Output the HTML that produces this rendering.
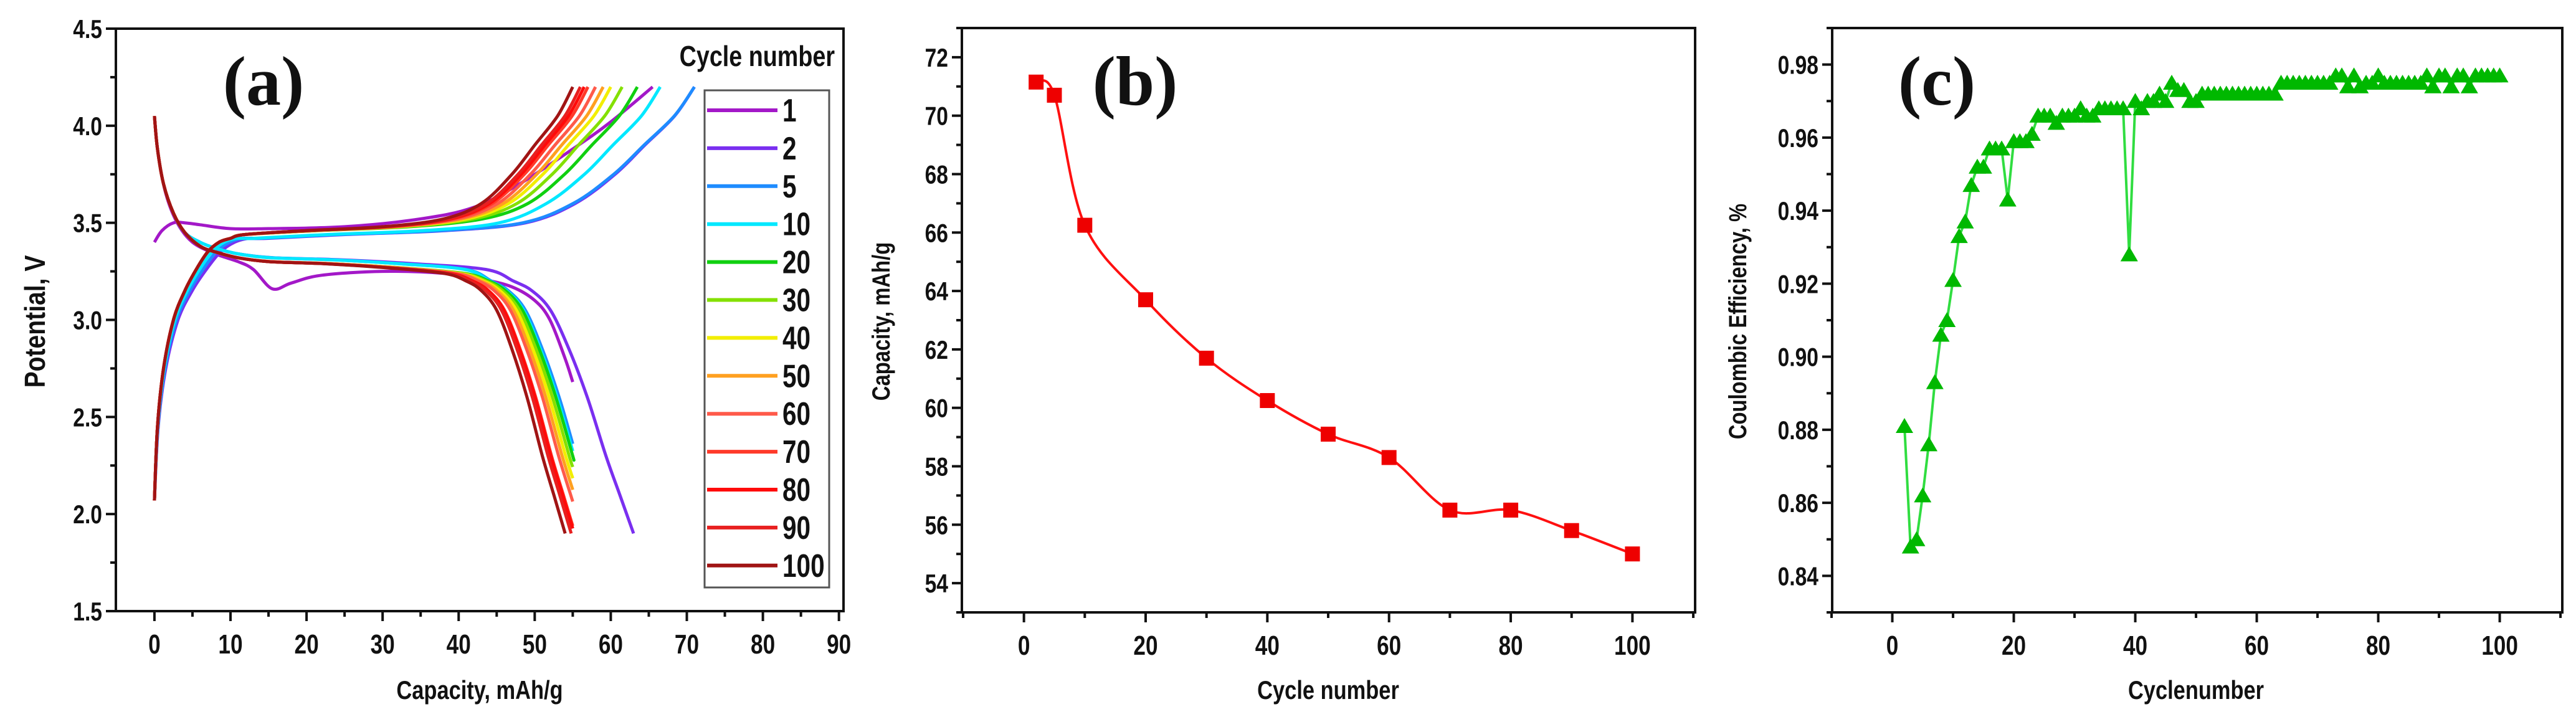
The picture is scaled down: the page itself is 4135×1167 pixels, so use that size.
<!DOCTYPE html>
<html><head><meta charset="utf-8">
<style>
html,body{margin:0;padding:0;background:#fff;}
svg{display:block;}
text{font-family:"Liberation Sans",sans-serif;font-weight:bold;fill:#111;}
.serif{font-family:"Liberation Serif",serif;}
</style></head>
<body>
<svg id="fig" width="4135" height="1167" viewBox="0 0 4135 1167" xmlns="http://www.w3.org/2000/svg"></svg>
<script>
// ---------- Panel (a) data ----------
const cycles = ["1","2","5","10","20","30","40","50","60","70","80","90","100"];
const cycleColors = ["#a318c8","#7a2ff0","#1e8cff","#00e8ff","#10d010","#84e000","#f2ee00","#ffa020","#ff5a4a","#ff3a2a","#ff0a0a","#e82020","#a01414"];
// charge: capacity at which 4.2 V is reached
const chargeEnd = [65.5,71,71,66.5,63.5,61.5,60,59,58,57,56.5,56,55];
// discharge: capacity at which 1.9 V would be reached and cut-off capacity
const dischargeFull = [0,63,58.8,58.5,58.3,57.8,57.3,56.8,56.3,55.3,55.2,54.8,54];
const dischargeCut = [55,63,55,55,55,55,55,55,55,55,55,54.8,54];
// template charge curve (capacity, V)
const chargeCap = [0,0.4,1.2,2.5,4,5.5,7,8.5,10,12,20,30,38,43,47,50,53,55];
const chargeV   = [2.07,2.45,2.75,3.0,3.15,3.26,3.35,3.40,3.42,3.44,3.46,3.48,3.52,3.6,3.75,3.9,4.05,4.2];
// template discharge curve (capacity, V)
const disCap = [0,0.4,1.2,2.5,4,6,8,11,15,22,30,38,41,43,45,47,49,51,52.5,54];
const disV   = [4.05,3.88,3.7,3.55,3.45,3.38,3.35,3.32,3.3,3.29,3.27,3.24,3.2,3.15,3.05,2.85,2.6,2.3,2.1,1.9];
// first cycle (irregular)
const c1ChargeCap = [0,1,2.5,4,6,10,15,25,35,42,48,55,60,65.5];
const c1ChargeV   = [3.4,3.46,3.5,3.5,3.49,3.47,3.47,3.48,3.52,3.58,3.7,3.88,4.02,4.2];
const c1DisCap = [0,0.5,1.5,3,5,8,11,13,15.5,18,22,30,38,43,47,50,52,54,55];
const c1DisV   = [4.05,3.85,3.65,3.5,3.4,3.34,3.3,3.26,3.16,3.19,3.23,3.25,3.24,3.21,3.17,3.1,3.0,2.8,2.68];

// ---------- Panel (b) data ----------
const capCycles = [2,5,10,20,30,40,50,60,70,80,90,100];
const capValues = [71.15,70.7,66.25,63.7,61.7,60.25,59.1,58.3,56.5,56.5,55.8,55.0];

// ---------- Panel (c) data ----------
const ceCycles = [];
for (let i=2;i<=100;i++) ceCycles.push(i);
const ceValues = [0.881,0.848,0.850,0.862,0.876,0.893,0.906,0.910,0.921,0.933,0.937,0.947,0.952,0.952,0.957,0.957,0.957,0.943,0.959,
0.959,0.959,0.961,0.966,0.966,0.966,0.964,0.966,0.966,0.966,0.968,0.966,0.966,0.968,0.968,0.968,0.968,0.968,0.928,0.970,
0.968,0.970,0.970,0.972,0.970,0.975,0.973,0.973,0.970,0.970,0.972,0.972,0.972,0.972,0.972,0.972,0.972,0.972,0.972,0.972,
0.972,0.972,0.972,0.975,0.975,0.975,0.975,0.975,0.975,0.975,0.975,0.975,0.977,0.977,0.974,0.977,0.974,0.975,0.975,0.977,
0.975,0.975,0.975,0.975,0.975,0.975,0.975,0.977,0.974,0.977,0.977,0.974,0.977,0.977,0.974,0.977,0.977,0.977,0.977,0.977];

const svg = document.getElementById('fig');
const NS = "http://www.w3.org/2000/svg";
function el(tag, attrs, parent){
  const e = document.createElementNS(NS, tag);
  for (const k in attrs) e.setAttribute(k, attrs[k]);
  (parent||svg).appendChild(e);
  return e;
}
function txt(x,y,s,size,anchor,parent,cls,sx,rot){
  const t = document.createElementNS(NS,'text');
  let tr = `translate(${x},${y})`;
  if (rot) tr += ` rotate(${rot})`;
  tr += ` scale(${sx||0.8},1)`;
  t.setAttribute('transform', tr);
  t.setAttribute('font-size', size);
  t.setAttribute('text-anchor', anchor||'middle');
  if (cls) t.setAttribute('class', cls);
  t.textContent = s;
  (parent||svg).appendChild(t);
  return t;
}
function smoothPath(pts){
  if (pts.length<2) return '';
  let d = `M${pts[0][0].toFixed(1)},${pts[0][1].toFixed(1)}`;
  for (let i=0;i<pts.length-1;i++){
    const p0 = pts[i-1]||pts[i], p1=pts[i], p2=pts[i+1], p3=pts[i+2]||p2;
    const c1=[p1[0]+(p2[0]-p0[0])/6, p1[1]+(p2[1]-p0[1])/6];
    const c2=[p2[0]-(p3[0]-p1[0])/6, p2[1]-(p3[1]-p1[1])/6];
    d += ` C${c1[0].toFixed(1)},${c1[1].toFixed(1)} ${c2[0].toFixed(1)},${c2[1].toFixed(1)} ${p2[0].toFixed(1)},${p2[1].toFixed(1)}`;
  }
  return d;
}
function axes(g, L,R,T,B, xs, ys, xMajor, xMinor, yMajor, yMinor, xLab, yLab){
  el('rect',{x:L,y:T,width:R-L,height:B-T,fill:'none',stroke:'#111','stroke-width':4},g);
  const ax = el('g',{},g);
   
  xMinor.forEach(v=>el('line',{x1:xs(v),x2:xs(v),y1:B,y2:B+9,stroke:'#111','stroke-width':4},ax));
  xMajor.forEach(v=>{
    el('line',{x1:xs(v),x2:xs(v),y1:B,y2:B+16,stroke:'#111','stroke-width':4},ax);
    const t=txt(xs(v),B+68,xLab(v),44,'middle',ax);
     
  });
  const ay = el('g',{},g);
   
  yMinor.forEach(v=>el('line',{x1:L-9,x2:L,y1:ys(v),y2:ys(v),stroke:'#111','stroke-width':4},ay));
  yMajor.forEach(v=>{
    el('line',{x1:L-16,x2:L,y1:ys(v),y2:ys(v),stroke:'#111','stroke-width':4},ay);
    const t=txt(L-22,ys(v)+15,yLab(v),42,'end',ay);
     
  });
}
function range(a,b,s){const r=[];for(let v=a;v<=b+1e-9;v+=s)r.push(+v.toFixed(4));return r;}

// ================= Panel A =================
(function(){
  const g = el('g',{});  
  const L=186,R=1354,T=46,B=981, x0=-5.07,x1=90.6,y0=1.5,y1=4.5;
  const xs=v=>L+(v-x0)/(x1-x0)*(R-L), ys=v=>B-(v-y0)/(y1-y0)*(B-T);
  axes(g,L,R,T,B,xs,ys,range(0,90,10),range(5,85,10),range(1.5,4.5,0.5),range(1.75,4.25,0.5),v=>String(v),v=>v.toFixed(1));
  const curves = el('g',{},g);  
  for (let i=0;i<cycles.length;i++){
    let cp, dp;
    if (i===0){
      cp = c1ChargeCap.map((c,j)=>[xs(c),ys(c1ChargeV[j])]);
      dp = c1DisCap.map((c,j)=>[xs(c),ys(c1DisV[j])]);
    } else {
      const E=chargeEnd[i], early = i<=3 ? 1+(4-i)*0.08 : 1;
      cp = chargeCap.map((c,j)=>{
        const x = c<=12 ? c*early : 12*early + (c-12)*(E-12*early)/(55-12);
        return [xs(x), ys(chargeV[j] - (i<=3 && c>=12 && c<40 ? 0.02 : 0))];
      });
      const F=dischargeFull[i], cut=dischargeCut[i];
      dp=[];
      for (let j=0;j<disCap.length;j++){
        const c=disCap[j];
        const x = c<=12 ? c : 12+(c-12)*(F-12)/(54-12);
        if (x<=cut+0.01) dp.push([xs(x),ys(disV[j]+(i<=3&&c>5&&c<40?0.02:0))]);
        else {
          const pc = j>0 ? disCap[j-1] : 0;
          const px = pc<=12?pc:12+(pc-12)*(F-12)/42;
          const f = (cut-px)/(x-px);
          const v = disV[j-1]+(disV[j]-disV[j-1])*f;
          dp.push([xs(cut),ys(v)]);
          break;
        }
      }
    }
    const pc = el('path',{d:smoothPath(cp),fill:'none',stroke:cycleColors[i],'stroke-width':5},curves);
     
    const pd = el('path',{d:smoothPath(dp),fill:'none',stroke:cycleColors[i],'stroke-width':5},curves);
     
  }
  // legend
  const lg = el('g',{},g);  
  const lt = txt(1340,106,'Cycle number',46,'end',lg,null,0.82);
   
  el('rect',{x:1131,y:145,width:200,height:798,fill:'#fff',stroke:'#555','stroke-width':3},lg);
  for (let i=0;i<cycles.length;i++){
    const y = 177 + i*60.9;
    const e = el('g',{},lg);  
    el('line',{x1:1135,x2:1248,y1:y,y2:y,stroke:cycleColors[i],'stroke-width':6},e);
    txt(1256,y+18,cycles[i],52,'start',e,null,0.78);
  }
  const pl = txt(423,168,'(a)',112,'middle',g,'serif',1);
   
  const xt = txt(770,1122,'Capacity, mAh/g',42,'middle',g,null,0.82);
   
  const yt = txt(72,516,'Potential, V',46,'middle',g,null,0.85,-90);
   
})();

// ================= Panel B =================
(function(){
  const g = el('g',{});  
  const L=1544,R=2721,T=45,B=983, x0=-10.2,x1=110.3,y0=53,y1=73;
  const xs=v=>L+(v-x0)/(x1-x0)*(R-L), ys=v=>B-(v-y0)/(y1-y0)*(B-T);
  axes(g,L,R,T,B,xs,ys,range(0,100,20),range(-10,110,10).filter(v=>v%20!==0),range(54,72,2),range(53,73,2),v=>String(v),v=>String(v));
  const pts = capCycles.map((c,i)=>[xs(c),ys(capValues[i])]);
  const line = el('path',{d:smoothPath(pts),fill:'none',stroke:'#ff1010','stroke-width':4},g);
   
  capCycles.forEach((c,i)=>{
    const r = el('rect',{x:xs(c)-12,y:ys(capValues[i])-12,width:24,height:24,fill:'#ee0000'},g);
     
  });
  const pl = txt(1822,168,'(b)',112,'middle',g,'serif',1);
   
  const xt = txt(2132,1122,'Cycle number',42,'middle',g,null,0.82);
   
  const yt = txt(1428,516,'Capacity, mAh/g',40,'middle',g,null,0.82,-90);
   
})();

// ================= Panel C =================
(function(){
  const g = el('g',{});  
  const L=2941,R=4113,T=45,B=983, x0=-9.9,x1=110.3,y0=0.83,y1=0.99;
  const xs=v=>L+(v-x0)/(x1-x0)*(R-L), ys=v=>B-(v-y0)/(y1-y0)*(B-T);
  axes(g,L,R,T,B,xs,ys,range(0,100,20),range(-10,110,10).filter(v=>Math.round(v)%20!==0),range(0.84,0.98,0.02),range(0.83,0.99,0.02),v=>String(v),v=>v.toFixed(2));
  const pts = ceCycles.map((c,i)=>[xs(c),ys(ceValues[i])]);
  const line = el('polyline',{points:pts.map(p=>p.join(',')).join(' '),fill:'none',stroke:'#30dd40','stroke-width':4},g);
   
  ceCycles.forEach((c,i)=>{
    const x=xs(c), y=ys(ceValues[i]);
    const t = el('polygon',{points:`${x-14},${y+11} ${x+14},${y+11} ${x},${y-13}`,fill:'#00b800'},g);
     
  });
  const pl = txt(3109,168,'(c)',112,'middle',g,'serif',1);
   
  const xt = txt(3525,1122,'Cyclenumber',42,'middle',g,null,0.82);
   
  const yt = txt(2803,516,'Coulombic Efficiency, %',40,'middle',g,null,0.82,-90);
   
})();
</script>
</body></html>
